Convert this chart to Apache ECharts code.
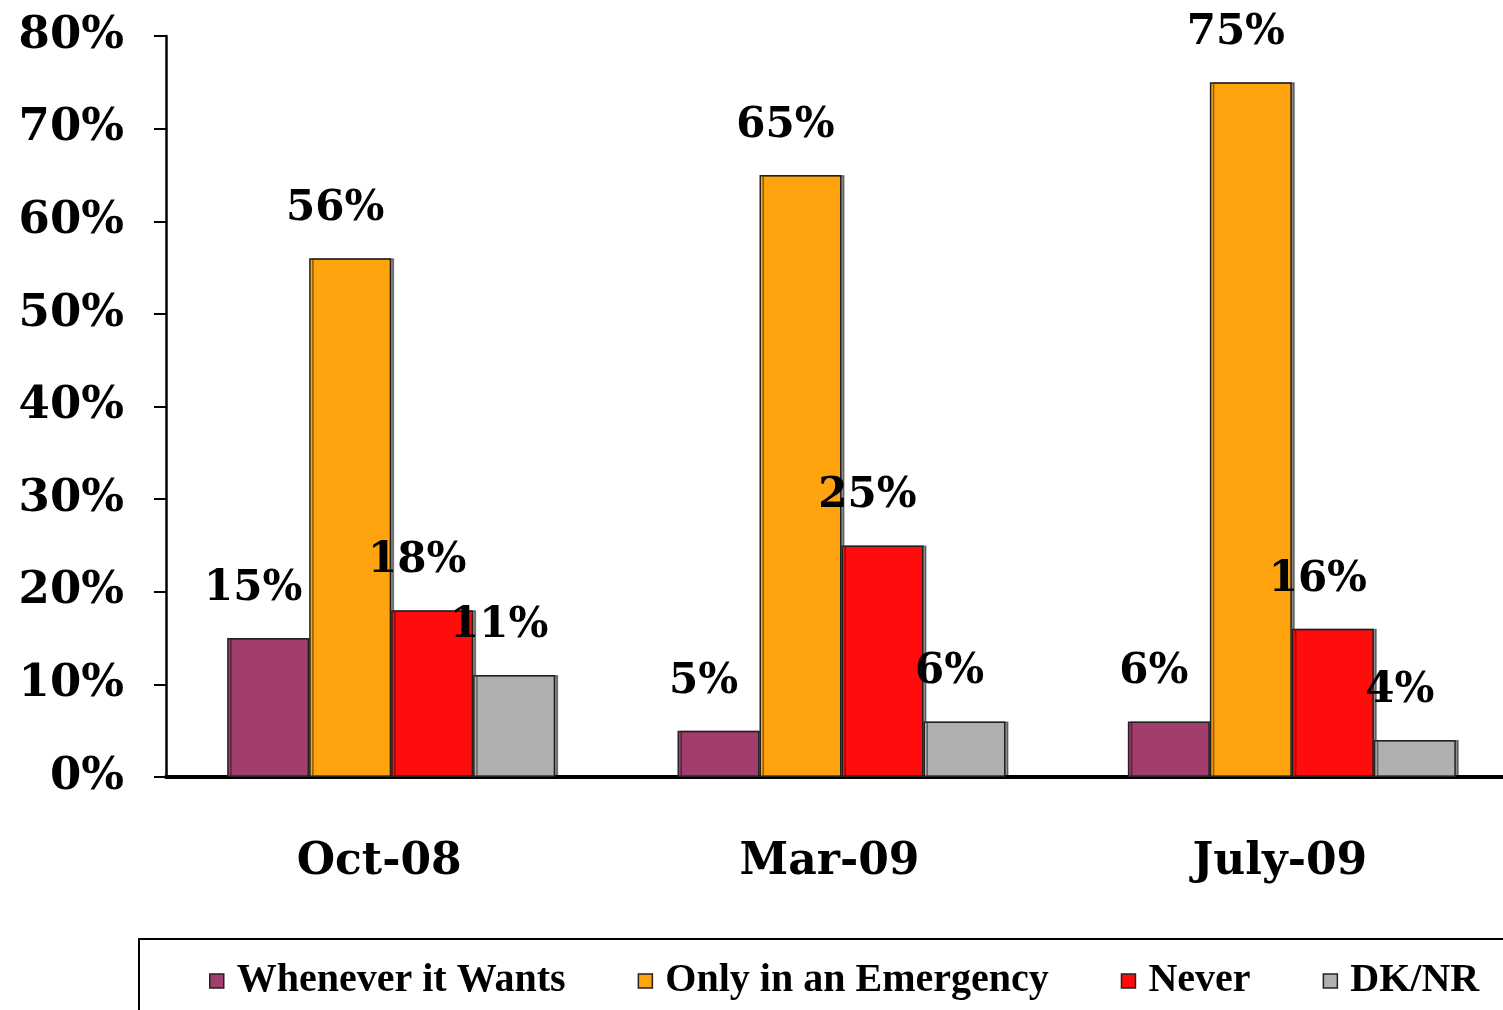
<!DOCTYPE html>
<html><head><meta charset="utf-8">
<script src="https://cdn.jsdelivr.net/npm/echarts@6/dist/echarts.min.js"></script>
<style>html,body{margin:0;padding:0;background:#fff;overflow:hidden}#c{width:1517px;height:1010px}</style>
</head><body><div id="c"></div>
<script>
var categories = ['Oct-08', 'Mar-09', 'July-09'];
var seriesNames = ['Whenever it Wants', 'Only in an Emergency', 'Never', 'DK/NR'];
var wheneverVals = [15, 5, 6];
var emergencyVals = [56, 65, 75];
var neverVals = [18, 25, 16];
var dknrVals = [11, 6, 4];
var yTicks = [0, 10, 20, 30, 40, 50, 60, 70, 80];
var colors = ['#A23E6D', '#FFA40E', '#FF0D0D', '#B0B0B0'];

var FONT = 'DejaVu Serif';
function mk(i, data) {
  return {
    name: seriesNames[i], type: 'bar', data: data, barWidth: 82, barGap: '0%',
    itemStyle: { color: colors[i], borderColor: '#222', borderWidth: 1.5,
      shadowColor: 'rgba(0,0,0,0.45)', shadowOffsetX: 3, shadowOffsetY: 0, shadowBlur: 0 },
    label: { show: true, position: 'top', distance: 28, offset: [-15, 0],
      formatter: '{c}%', color: '#000', fontFamily: FONT, fontWeight: 'bold', fontSize: 42 }
  };
}
var chart = echarts.init(document.getElementById('c'), null, { renderer: 'canvas' });
chart.setOption({
  animation: false,
  backgroundColor: '#fff',
  grid: { left: 166, top: 36, bottom: 233, right: 0, containLabel: false },
  xAxis: {
    type: 'category', data: categories,
    axisLine: { lineStyle: { color: '#000', width: 4 } },
    axisTick: { show: false },
    axisLabel: { margin: 64, color: '#000', fontFamily: FONT, fontWeight: 'bold', fontSize: 44,
      padding: [0, 24, 0, 0] }
  },
  yAxis: {
    type: 'value', min: 0, max: 80, interval: 10,
    axisLine: { show: true, lineStyle: { color: '#000', width: 2.5 } },
    axisTick: { show: true, inside: false, length: 12, lineStyle: { color: '#000', width: 2 } },
    splitLine: { show: false },
    axisLabel: { margin: 42, color: '#000', fontFamily: FONT, fontWeight: 'bold', fontSize: 45,
      formatter: function (v) { return yTicks.indexOf(v) >= 0 ? v + '%' : ''; } }
  },
  legend: {
    left: 204, top: 956, itemWidth: 14, itemHeight: 14, itemGap: 72, icon: 'rect',
    itemStyle: { borderColor: '#222', borderWidth: 1.5 },
    textStyle: { color: '#000', fontFamily: 'Liberation Serif', fontWeight: 'bold', fontSize: 40, padding: [0, 0, 0, 8] },
    data: seriesNames
  },
  graphic: [{ type: 'rect', shape: { x: 139, y: 939, width: 1400, height: 90 },
    style: { fill: 'none', stroke: '#000', lineWidth: 2 }, silent: true }],
  series: [mk(0, wheneverVals), mk(1, emergencyVals), mk(2, neverVals), mk(3, dknrVals)]
});
</script></body></html>
